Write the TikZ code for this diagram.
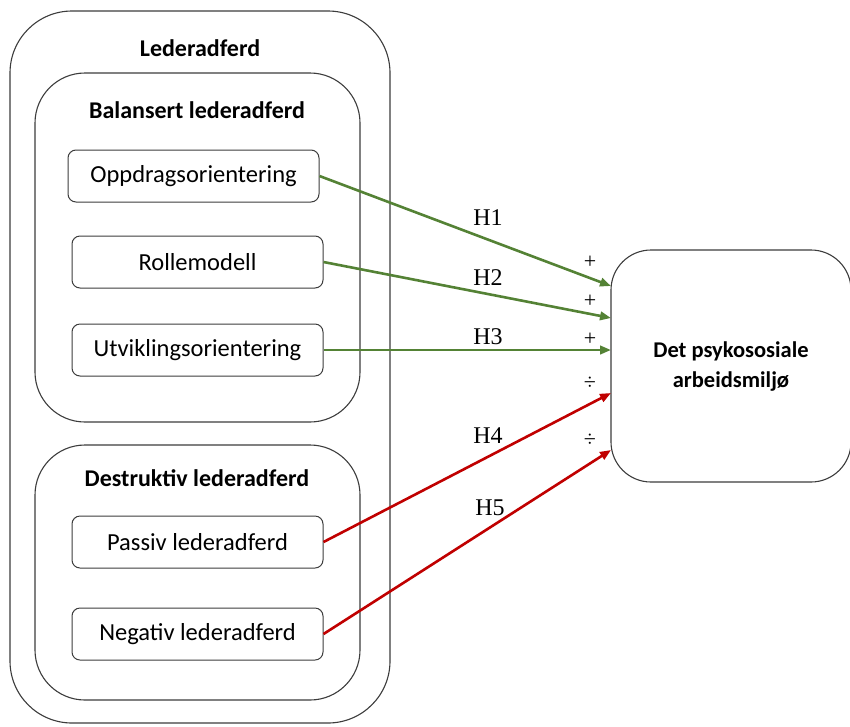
\documentclass[tikz,border=0pt]{standalone}
\usepackage{fontspec}
\setmainfont{Carlito}
\newfontfamily\timesf{Liberation Serif}
\usetikzlibrary{arrows.meta}
\definecolor{grn}{RGB}{84,130,53}
\definecolor{rd}{RGB}{192,0,0}
\definecolor{edge}{RGB}{60,60,60}
\tikzset{
  group/.style={draw=edge, line width=1.1pt, rounded corners=#1},
  item/.style={draw=edge, line width=1pt, rounded corners=8pt, minimum width=251pt, minimum height=52pt, font=\fontsize{24.5}{28}\selectfont, inner sep=0pt},
  title/.style={font=\bfseries\fontsize{24}{28}\selectfont},
  hlab/.style={font=\timesf\fontsize{24}{28}\selectfont},
  sign/.style={font=\timesf\fontsize{22}{24}\selectfont},
  garrow/.style={draw=grn, line width=2.6pt, -{Triangle[length=11pt,width=8.5pt]}},
  rarrow/.style={draw=rd, line width=2.6pt, -{Triangle[length=11pt,width=8.5pt]}},
}
\begin{document}
\begin{tikzpicture}[x=1pt,y=-1pt]
\useasboundingbox (0,0) rectangle (850,726);
% groups
\draw[group=62pt] (10,11) rectangle (390,723);
\draw[group=50pt] (35,73) rectangle (360,422);
\draw[group=50pt] (35,445) rectangle (360,700);
\node[title] (tled) at (200,48) {Lederadferd};
\node[title] (tbal) at (197,110) {Balansert lederadferd};
\node[title] (tdes) at (197,478) {Destruktiv lederadferd};
% items
\node[item] (opp) at (193.5,176) {Oppdragsorientering};
\node[item] (rol) at (197.5,262) {Rollemodell};
\node[item] (utv) at (197.5,350) {Utviklingsorientering};
\node[item] (pas) at (197.5,542) {Passiv lederadferd};
\node[item] (neg) at (197.5,634) {Negativ lederadferd};
% target
\node[draw=edge, line width=1.1pt, rounded corners=40pt, minimum width=240pt, minimum height=232pt, font=\bfseries\fontsize{22.5}{30}\selectfont, align=center] (det) at (731,366) {Det psykososiale\\arbeidsmiljø};
\coordinate (e1) at (611,286);
\coordinate (e2) at (611,318);
\coordinate (e3) at (611,350);
\coordinate (e4) at (611,393);
\coordinate (e5) at (611,450);
\draw[garrow] (opp.east) -- (e1);
\draw[garrow] (rol.east) -- (e2);
\draw[garrow] (utv.east) -- (e3);
\draw[rarrow] (pas.east) -- (e4);
\draw[rarrow] (neg.east) -- (e5);
\node[hlab] (h1) at (488,218) {H1};
\node[hlab] (h2) at (488,278) {H2};
\node[hlab] (h3) at (488,337) {H3};
\node[hlab] (h4) at (488,436) {H4};
\node[hlab] (h5) at (490,508) {H5};
\node[sign] (s1) at (590,262) {+};
\node[sign] (s2) at (590,301) {+};
\node[sign] (s3) at (590,339) {+};
\node[sign] (s4) at (590,383) {÷};
\node[sign] (s5) at (590,440) {÷};
\end{tikzpicture}
\end{document}
